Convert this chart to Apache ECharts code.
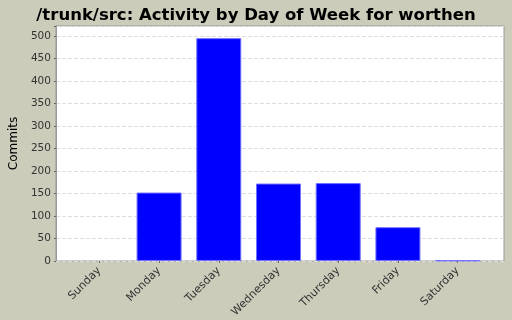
<!DOCTYPE html>
<html>
<head>
<meta charset="utf-8">
<script src="https://cdn.jsdelivr.net/npm/echarts@6/dist/echarts.min.js"></script>
<style>
  html, body { margin: 0; padding: 0; background: #ccccbb; }
  #chart { width: 512px; height: 320px; }
</style>
</head>
<body>
<div id="chart"></div>
<script>
// data
const days = ['Sunday', 'Monday', 'Tuesday', 'Wednesday', 'Thursday', 'Friday', 'Saturday'];
const commits = [0, 152, 495, 172, 173, 75, 1];
const yMax = 522;
const yStep = 50;

const font = 'DejaVu Sans';
const chart = echarts.init(document.getElementById('chart'));

// empty days get no outline, like the original
const barData = commits.map(v => v === 0 ? { value: v, itemStyle: { borderWidth: 0 } } : v);

const option = {
    backgroundColor: '#ccccbb',
    animation: false,
    title: {
        text: '/trunk/src: Activity by Day of Week for worthen',
        left: 'center',
        top: 2,
        textStyle: { fontFamily: font, fontSize: 16.5, fontWeight: 'bold', color: '#000' }
    },
    grid: [
        // plot frame
        { left: 53, right: 8, top: 26, bottom: 59, show: true, backgroundColor: '#fff', borderColor: '#999', borderWidth: 1 },
        // inner area for the categories (jfreechart category margins)
        { left: 69.5, right: 24.5, top: 26, bottom: 59 }
    ],
    xAxis: [
        { gridIndex: 0, type: 'value', min: 0, max: 1, show: false },
        {
            gridIndex: 1, type: 'category', data: days,
            axisLine: { show: false },
            axisTick: { show: true, alignWithLabel: true, length: 2, lineStyle: { color: '#666' } },
            axisLabel: { rotate: 45, fontFamily: font, fontSize: 11, color: '#333', margin: 8 }
        }
    ],
    yAxis: [
        {
            gridIndex: 0, type: 'value', min: 0, max: yMax, interval: yStep,
            name: 'Commits', nameLocation: 'middle', nameGap: 31,
            nameTextStyle: { fontFamily: font, fontSize: 12, color: '#000' },
            axisLine: { show: true, lineStyle: { color: '#999' } },
            axisTick: { show: true, length: 2, lineStyle: { color: '#666' } },
            axisLabel: { fontFamily: font, fontSize: 10.5, color: '#333', margin: 5,
                formatter: v => (v % yStep === 0 ? v : '') },
            splitLine: { show: true, lineStyle: { color: '#dddddd', type: 'dashed' } }
        },
        { gridIndex: 1, type: 'value', min: 0, max: yMax, show: false }
    ],
    series: [{
        type: 'bar',
        xAxisIndex: 1,
        yAxisIndex: 1,
        data: barData,
        barWidth: 45,
        itemStyle: { color: '#0000ff', borderColor: '#7070ff', borderWidth: 1 }
    }]
};
chart.setOption(option);
</script>
</body>
</html>
